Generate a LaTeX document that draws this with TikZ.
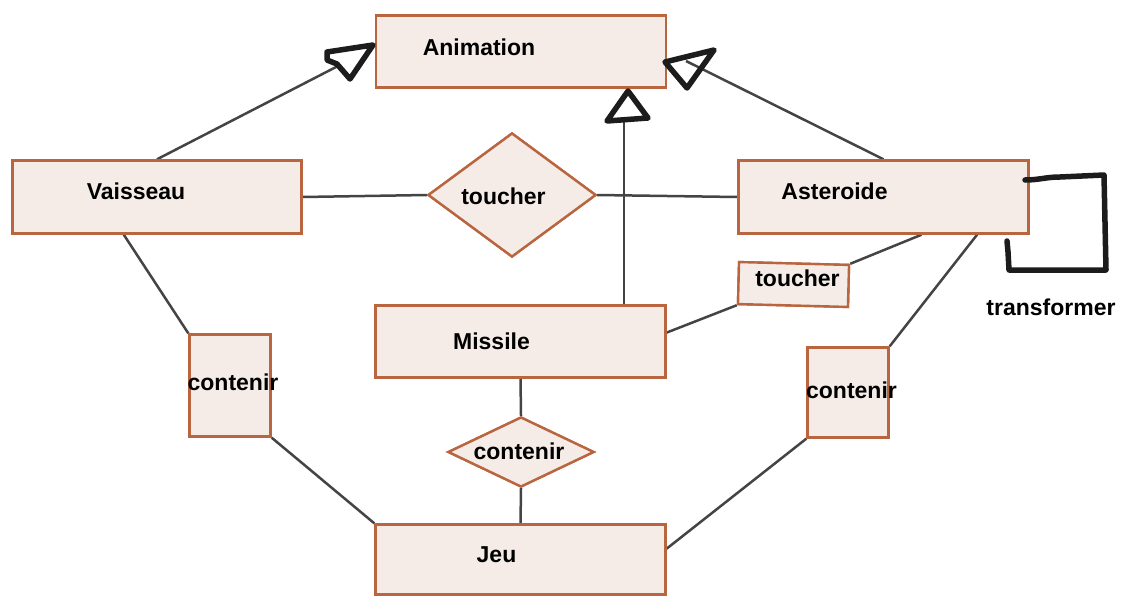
\documentclass[tikz,border=0pt]{standalone}
\usepackage{fontspec}
\setmainfont{Liberation Sans}
\usetikzlibrary{shapes.geometric,calc}
\definecolor{edgeC}{RGB}{185,101,63}
\definecolor{fillC}{RGB}{245,236,231}
\definecolor{lineC}{RGB}{68,68,68}
\definecolor{inkC}{RGB}{28,28,28}
\tikzset{
  entity/.style={rectangle, draw=edgeC, fill=fillC, line width=2.4pt, inner sep=0pt},
  rel/.style={diamond, draw=edgeC, fill=fillC, line width=2.4pt, inner sep=0pt},
  lbl/.style={font=\fontsize{23}{27}\selectfont\bfseries, text=black, inner sep=0pt, anchor=base},
  conn/.style={draw=lineC, line width=2.5pt},
  ink/.style={draw=inkC, line width=5.5pt, line join=round, line cap=round}
}
\begin{document}
\begin{tikzpicture}[x=1pt,y=-1pt]
\useasboundingbox (0,0) rectangle (1121,597);
% entities
\node[entity, minimum width=290pt, minimum height=72pt] (anim) at (521,51.5) {};
\node[entity, minimum width=289pt, minimum height=73pt] (vai) at (157,197) {};
\node[entity, minimum width=290pt, minimum height=73pt] (ast) at (883.5,197) {};
\node[entity, minimum width=290pt, minimum height=72pt] (mis) at (520.5,341.5) {};
\node[entity, minimum width=290pt, minimum height=70pt] (jeu) at (520.5,559.5) {};
\node[entity, minimum width=81pt, minimum height=102pt] (contL) at (230,385.5) {};
\node[entity, minimum width=81pt, minimum height=90pt] (contR) at (848,392.5) {};
\node[entity, minimum width=110pt, minimum height=42pt, rotate=-1.5] (touchB) at (793.5,284.5) {};
\node[rel, minimum width=168pt, minimum height=124pt] (touchD) at (512,195) {};
\node[rel, minimum width=146pt, minimum height=70pt] (contD) at (521,452) {};
% free ends of connectors
\coordinate (baseL) at (338,66);
\coordinate (baseR) at (686,61);
\coordinate (baseM) at (624,118);
% connectors
\begin{scope}[on background layer/.style={}]
\end{scope}
\path[conn] (vai.north) -- (baseL);
\path[conn] (ast.north) -- (baseR);
\path[conn] (mis.north -| baseM) -- (baseM);
\path[conn] (vai.east) -- (touchD.west);
\path[conn] (touchD.east) -- (ast.west);
\path[conn] ($(ast.south west)!0.63!(ast.south east)$) -- (touchB.north east);
\path[conn] (touchB.south west) -- ($(mis.north east)!0.38!(mis.south east)$);
\path[conn] ($(ast.south west)!0.82!(ast.south east)$) -- (contR.north east);
\path[conn] (contR.south west) -- ($(jeu.north east)!0.35!(jeu.south east)$);
\path[conn] ($(vai.south west)!0.386!(vai.south east)$) -- (contL.north west);
\path[conn] (contL.south east) -- (jeu.north west);
\path[conn] (mis.south) -- (contD.north);
\path[conn] (contD.south) -- (jeu.north);
% redraw shapes over line ends
\node[entity, minimum width=290pt, minimum height=72pt] at (anim) {};
\node[entity, minimum width=289pt, minimum height=73pt] at (vai) {};
\node[entity, minimum width=290pt, minimum height=73pt] at (ast) {};
\node[entity, minimum width=290pt, minimum height=72pt] at (mis) {};
\node[entity, minimum width=290pt, minimum height=70pt] at (jeu) {};
\node[entity, minimum width=81pt, minimum height=102pt] at (contL) {};
\node[entity, minimum width=81pt, minimum height=90pt] at (contR) {};
\node[entity, minimum width=110pt, minimum height=42pt, rotate=-1.5] at (touchB) {};
\node[rel, minimum width=168pt, minimum height=124pt] at (touchD) {};
\node[rel, minimum width=146pt, minimum height=70pt] at (contD) {};
% labels
\node[lbl] (tAnim) at (479,55) {Animation};
\node[lbl] (tVai) at (136,199) {Vaisseau};
\node[lbl] (tAst) at (834.5,199) {Asteroide};
\node[lbl] (tTouchD) at (503.5,204) {toucher};
\node[lbl] (tTouchB) at (797.5,286) {toucher};
\node[lbl] (tMis) at (491.5,349) {Missile};
\node[lbl] (tContL) at (233,390) {contenir};
\node[lbl] (tContR) at (851.5,398) {contenir};
\node[lbl] (tContD) at (519,459) {contenir};
\node[lbl] (tJeu) at (496.5,562) {Jeu};
\node[lbl] (tTrans) at (1051,315) {transformer};
% hand-drawn arrowheads
\draw[ink] (327,52) -- (373,45) -- (350,79) -- (337,64) -- (327,60) -- cycle;
\draw[ink] (665,62) -- (714,50) -- (687,88) -- cycle;
\draw[ink] (628,91) -- (648,118) -- (607,121) -- cycle;
% hand-drawn self loop on Asteroide
\draw[ink] (1025,180) to[out=0,in=180] (1060,177) -- (1104,175) -- (1106,270) -- (1009,270) -- (1008,252) -- (1007,241);
\end{tikzpicture}
\end{document}
